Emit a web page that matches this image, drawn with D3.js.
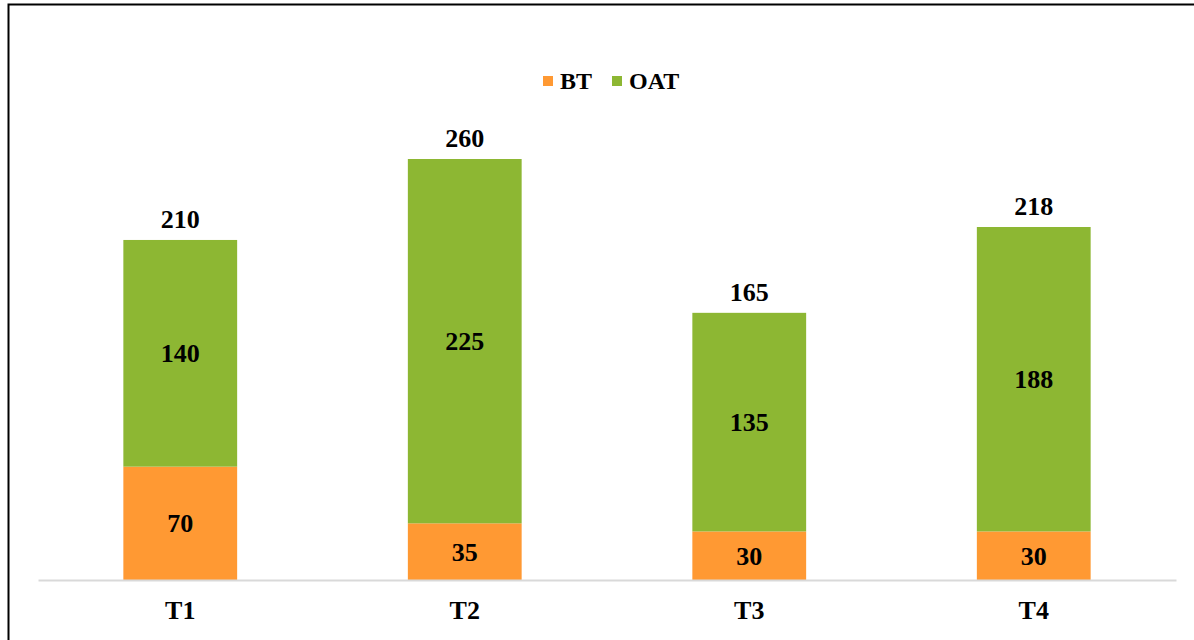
<!DOCTYPE html>
<html>
<head>
<meta charset="utf-8">
<script src="https://cdn.jsdelivr.net/npm/d3@7"></script>
<style>
  body { margin: 0; background: #fff; }
  svg text { font-family: "Liberation Serif", "Times New Roman", serif; font-weight: bold; fill: #000; }
</style>
</head>
<body>
<script>
var categories = ["T1", "T2", "T3", "T4"];
var seriesNames = ["BT", "OAT"];
var btValues = [70, 35, 30, 30];
var oatValues = [140, 225, 135, 188];
var totals = [210, 260, 165, 218];
var colors = ["#FF9933", "#8DB733"];

var w = 1194;
var h = 640;

var rows = categories.map(function (c, i) {
    return { cat: c, BT: btValues[i], OAT: oatValues[i], total: totals[i] };
});

var svg = d3.select("body")
    .append("svg")
    .attr("width", w)
    .attr("height", h);

// frame of the original picture
svg.append("path")
    .attr("d", "M8.5," + h + " L8.5,4.5 L" + w + ",4.5")
    .attr("fill", "none")
    .attr("stroke", "#000")
    .attr("stroke-width", 2);

var xScale = d3.scaleBand()
    .domain(categories)
    .range([38, 1176])
    .paddingInner(0.6)
    .paddingOuter(0.3);

var yScale = d3.scaleLinear()
    .domain([0, 260])
    .range([580, 159]);

var stack = d3.stack().keys(seriesNames);
var layers = stack(rows);

var layer = svg.selectAll(".layer")
    .data(layers)
    .enter()
    .append("g")
    .attr("class", "layer")
    .attr("fill", function (d, i) { return colors[i]; });

layer.selectAll("rect")
    .data(function (d) { return d; })
    .enter()
    .append("rect")
    .attr("x", function (d) { return xScale(d.data.cat); })
    .attr("y", function (d) { return yScale(d[1]); })
    .attr("height", function (d) { return yScale(d[0]) - yScale(d[1]); })
    .attr("width", xScale.bandwidth());

// segment labels
layer.selectAll("text")
    .data(function (d) { return d; })
    .enter()
    .append("text")
    .attr("x", function (d) { return xScale(d.data.cat) + xScale.bandwidth() / 2; })
    .attr("y", function (d) { return (yScale(d[0]) + yScale(d[1])) / 2; })
    .attr("dy", "0.35em")
    .attr("text-anchor", "middle")
    .attr("font-size", 26)
    .text(function (d) { return d[1] - d[0]; });

// totals
svg.selectAll(".total")
    .data(rows)
    .enter()
    .append("text")
    .attr("class", "total")
    .attr("x", function (d) { return xScale(d.cat) + xScale.bandwidth() / 2; })
    .attr("y", function (d) { return yScale(d.total) - 12; })
    .attr("text-anchor", "middle")
    .attr("font-size", 26)
    .text(function (d) { return d.total; });

// x axis
var xAxis = d3.axisBottom(xScale).tickSize(0).tickPadding(21);
var gx = svg.append("g")
    .attr("transform", "translate(0,580)")
    .call(xAxis);
gx.select(".domain").attr("stroke", "#D9D9D9").attr("stroke-width", 2);
gx.selectAll("text")
    .attr("font-size", 26)
    .style("font-family", "'Liberation Serif', serif")
    .style("font-weight", "bold")
    .attr("fill", "#000");

// legend
var legendX = [543, 612];
var legend = svg.selectAll(".legend")
    .data(seriesNames)
    .enter()
    .append("g")
    .attr("class", "legend")
    .attr("transform", function (d, i) { return "translate(" + legendX[i] + ",76)"; });

legend.append("rect")
    .attr("width", 10)
    .attr("height", 10)
    .attr("fill", function (d, i) { return colors[i]; });

legend.append("text")
    .attr("x", 17)
    .attr("y", 5)
    .attr("dy", "0.35em")
    .attr("font-size", 24)
    .text(function (d) { return d; });
</script>
</body>
</html>
